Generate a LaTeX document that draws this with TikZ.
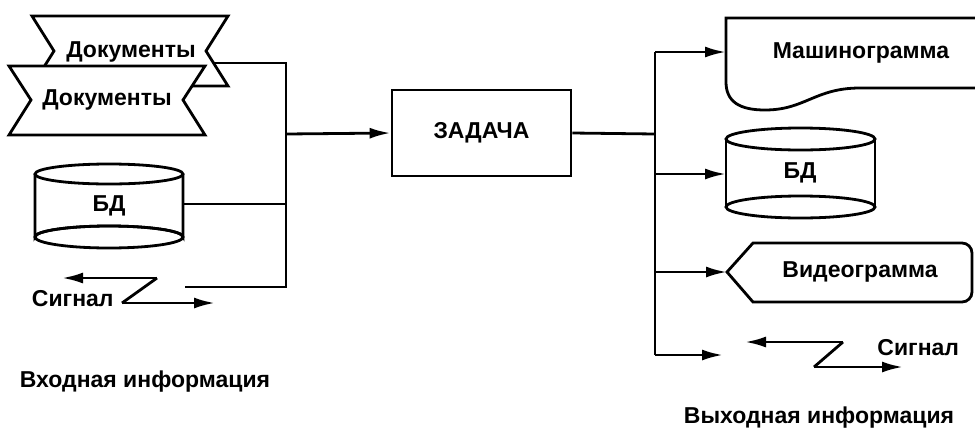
\documentclass[tikz,border=0pt]{standalone}
\usepackage{fontspec}
\setmainfont{Liberation Sans}
\usetikzlibrary{arrows.meta}
\begin{document}
\begin{tikzpicture}[x=1pt,y=-1pt,line width=2.8pt,
  lbl/.style={font=\bfseries\fontsize{23}{26}\selectfont,inner sep=0pt},
  arr/.style={-{Latex[length=21pt,width=11pt]}},
  shp/.style={draw,fill=white,line join=miter}]
\useasboundingbox (0,0) rectangle (975,432);
% ---------- input side ----------
\draw[shp] (32,16) -- (228,16) -- (206,51) -- (228,86) -- (32,86) -- (54,51) -- cycle;
\node[lbl] (doc1) at (131,52) {Документы};
\draw[shp] (9,66) -- (205,66) -- (183,100) -- (205,135) -- (9,135) -- (31,100) -- cycle;
\node[lbl] (doc2) at (107,100) {Документы};
% left database
\draw[fill=white] (35,174) -- (35,237) arc[start angle=180,end angle=360,x radius=74pt,y radius=-11pt] -- (183,174);
\draw (109,174) ellipse (74pt and 10pt);
\draw (109,237) ellipse (74pt and 11pt);
\node[lbl] (bd1) at (109,206) {БД};
% left signal
\coordinate (s1a) at (157,278);
\coordinate (s1b) at (122,303);
\coordinate (s1l) at (62,278);
\coordinate (s1r) at (215,303);
\draw[arr] (s1a) -- (s1l);
\draw[line join=miter] (s1a) -- (s1b);
\draw[arr] (s1b) -- (s1r);
\node[lbl,anchor=east] (sig1) at (115,299) {Сигнал};
\node[lbl] (inp) at (145,382) {Входная информация};
% collector on the left
\coordinate (d1out) at (214,63);
\coordinate (jtop) at (286,63);
\coordinate (jmid) at (286,134);
\coordinate (jbd) at (286,204);
\coordinate (bd1e) at (183,204);
\coordinate (jbot) at (286,287);
\coordinate (sigin) at (185,287);
\draw (d1out) -- (jtop) -- (jbot) -- (sigin);
\draw (bd1e) -- (jbd);
% task
\node[draw,lbl,minimum width=179pt,minimum height=86pt] (task) at (481.5,133) {ЗАДАЧА};
\draw[arr] (jmid) -- (task.west);
% ---------- output side ----------
\coordinate (rmid) at (655,134);
\coordinate (rtop) at (655,52);
\coordinate (rbot) at (655,355);
\coordinate (rbd) at (655,174);
\coordinate (rvid) at (655,272);
\draw (task.east) -- (rmid);
\draw (rtop) -- (rbot);
% Mashinogramma (document shape, cut by the page edge)
\draw[line join=miter] (980,18) -- (726,18) -- (726,82)
  .. controls (726,102) and (740,110) .. (765,110)
  .. controls (805,110) and (815,88) .. (860,88) -- (980,88);
\node[lbl] (mash) at (861,53) {Машинограмма};
\coordinate (mashw) at (726,52);
\draw[arr] (rtop) -- (mashw);
% right database
\draw (726,139) -- (726,207);
\draw (875,139) -- (875,207);
\draw (800.5,139) ellipse (74.5pt and 11pt);
\draw (800.5,207) ellipse (74.5pt and 11pt);
\node[lbl] (bd2) at (800,173) {БД};
\coordinate (bd2w) at (726,174);
\draw[arr] (rbd) -- (bd2w);
% Videogramma (display shape)
\draw[line join=miter] (727,272) -- (753,243) [rounded corners=10pt] -- (972,243) -- (972,302) [sharp corners] -- (753,302) -- cycle;
\node[lbl] (vid) at (860,272) {Видеограмма};
\coordinate (vidw) at (727,272);
\draw[arr] (rvid) -- (vidw);
% right signal
\coordinate (sigout) at (723,355);
\draw[arr] (rbot) -- (sigout);
\coordinate (s2a) at (843,342);
\coordinate (s2b) at (814,367);
\coordinate (s2l) at (745,342);
\coordinate (s2r) at (903,367);
\draw[arr] (s2a) -- (s2l);
\draw (s2a) -- (s2b);
\draw[arr] (s2b) -- (s2r);
\node[lbl,anchor=west] (sig2) at (876,348) {Сигнал};
\node[lbl] (outp) at (819,418) {Выходная информация};
\end{tikzpicture}
\end{document}
